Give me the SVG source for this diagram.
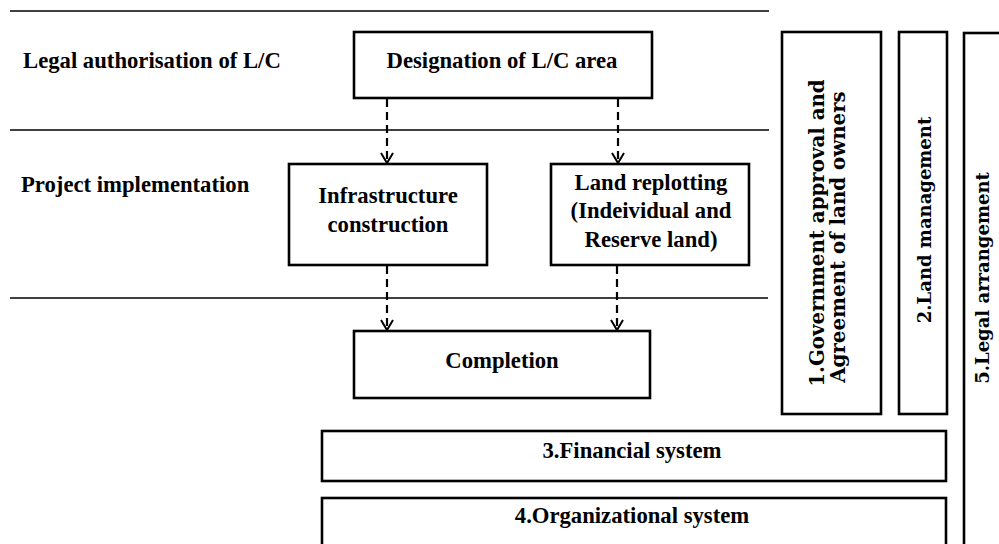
<svg xmlns="http://www.w3.org/2000/svg" width="999" height="544" viewBox="0 0 999 544">
<style>
.bg{fill:#ffffff}
.sep{stroke:#000;stroke-width:1.6;fill:none}
.box{fill:#fff;stroke:#000;stroke-width:2.6}
.t{font-family:"Liberation Serif","Times New Roman",serif;font-weight:bold;font-size:22.7px;fill:#000}
.c{text-anchor:middle}
.v{font-family:"DejaVu Serif",serif;font-weight:bold;font-size:18px;fill:#000;text-anchor:middle}
.vl{font-size:19.8px}
.arr{stroke:#000;stroke-width:2.2;stroke-dasharray:8 5;fill:none;marker-end:url(#vhead)}
</style>
<defs>
<marker id="vhead" markerUnits="userSpaceOnUse" markerWidth="14" markerHeight="14" refX="12" refY="7" orient="auto" viewBox="0 0 14 14">
<path d="M2,1 L12,7 L2,13" fill="none" stroke="#000" stroke-width="2"/>
</marker>
</defs>
<rect class="bg" x="0" y="0" width="999" height="544"/>
<g id="separators">
<line class="sep" x1="10" y1="11" x2="769" y2="11"/>
<line class="sep" x1="10" y1="130" x2="769" y2="130"/>
<line class="sep" x1="10" y1="298" x2="768" y2="298"/>
</g>
<g id="lane-labels">
<text class="t" x="23" y="68">Legal authorisation of L/C</text>
<text class="t" x="21" y="192">Project implementation</text>
</g>
<g id="connectors">
<line class="arr" x1="387" y1="99" x2="387" y2="163"/>
<line class="arr" x1="618" y1="99" x2="618" y2="163"/>
<line class="arr" x1="387" y1="266" x2="387" y2="330"/>
<line class="arr" x1="617" y1="266" x2="617" y2="330"/>
</g>
<g id="designation">
<rect class="box" x="354" y="32" width="298" height="66"/>
<text class="t c" x="502" y="68">Designation of L/C area</text>
</g>
<g id="infrastructure">
<rect class="box" x="289" y="164" width="198" height="101"/>
<text class="t c" x="388" y="203">Infrastructure</text>
<text class="t c" x="388" y="232">construction</text>
</g>
<g id="replotting">
<rect class="box" x="551" y="164" width="198" height="101"/>
<text class="t c" x="651" y="190">Land replotting</text>
<text class="t c" x="651" y="218">(Indeividual and</text>
<text class="t c" x="651" y="247">Reserve land)</text>
</g>
<g id="completion">
<rect class="box" x="354" y="331" width="296" height="67"/>
<text class="t c" x="502" y="368">Completion</text>
</g>
<g id="government">
<rect class="box" x="782" y="32" width="99" height="382"/>
<text class="v vl" transform="translate(824,233) rotate(-90)">1.Government approval and</text>
<text class="v vl" transform="translate(845,237) rotate(-90)">Agreement of land owners</text>
</g>
<g id="land-management">
<rect class="box" x="899" y="32" width="48" height="382"/>
<text class="v" transform="translate(931,220) rotate(-90)">2.Land management</text>
</g>
<g id="financial">
<rect class="box" x="322" y="431" width="624" height="50"/>
<text class="t c" x="632" y="458">3.Financial system</text>
</g>
<g id="organizational">
<rect class="box" x="322" y="498" width="624" height="60"/>
<text class="t c" x="632" y="523">4.Organizational system</text>
</g>
<g id="legal-arrangement">
<rect class="box" x="964" y="33" width="40" height="525"/>
<text class="v" transform="translate(989,278) rotate(-90)">5.Legal arrangement</text>
</g>
</svg>
